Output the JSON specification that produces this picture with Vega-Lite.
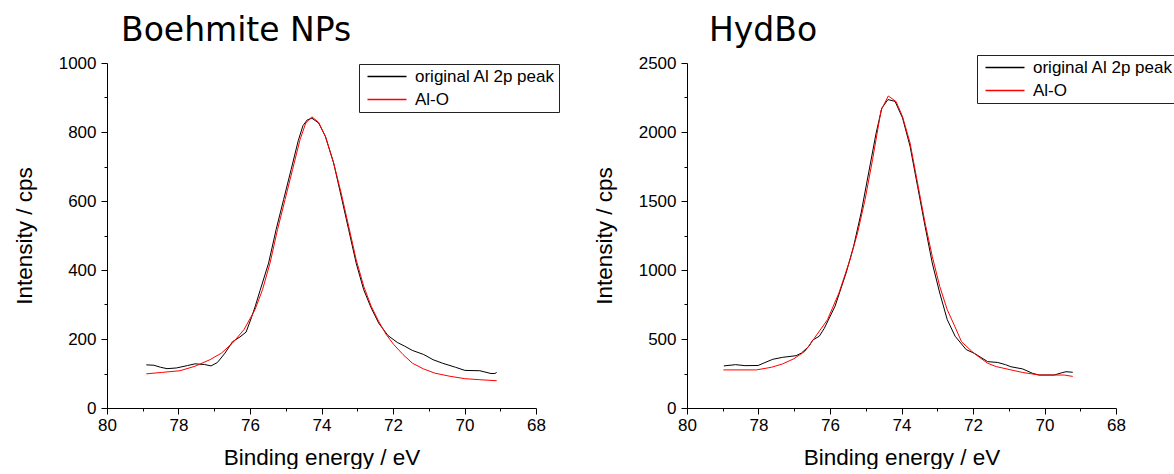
{
  "$schema": "https://vega.github.io/schema/vega-lite/v6.json",
  "background": "white",
  "padding": {"left": 13, "top": 15, "right": 0, "bottom": 0},
  "bounds": "flush",
  "spacing": 151,
  "config": {
    "view": {"stroke": null},
    "font": "Liberation Sans",
    "axis": {
      "domainColor": "black", "tickColor": "black", "labelColor": "black", "titleColor": "black",
      "labelFont": "Liberation Sans", "labelFontSize": 17, "titleFont": "Liberation Sans", "titleFontSize": 22.5,
      "titleFontWeight": "normal", "grid": false, "labelFlush": false, "labelOverlap": false,
      "domainWidth": 1, "tickWidth": 1
    },
    "axisX": {"labelPadding": 3, "titlePadding": 13},
    "axisY": {"labelPadding": 5, "titlePadding": 22},
    "title": {"font": "DejaVu Sans", "fontSize": 33, "fontWeight": "normal", "anchor": "start", "frame": "group", "baseline": "alphabetic", "offset": 6, "color": "black"},
    "legend": {
      "labelFont": "Liberation Sans", "labelFontSize": 17, "labelColor": "black",
      "strokeColor": "#222", "fillColor": "white", "padding": 4,
      "symbolType": "M-1,0H8.75", "symbolSize": 64, "symbolStrokeWidth": 1.5,
      "labelOffset": 35, "rowPadding": 5
    }
  },
  "datasets": {
    "boehmite": [
      {"s": "original Al 2p peak", "E": 78.90, "I": 125}, {"s": "original Al 2p peak", "E": 78.69, "I": 124},
      {"s": "original Al 2p peak", "E": 78.50, "I": 118}, {"s": "original Al 2p peak", "E": 78.32, "I": 114},
      {"s": "original Al 2p peak", "E": 78.06, "I": 116}, {"s": "original Al 2p peak", "E": 77.75, "I": 123},
      {"s": "original Al 2p peak", "E": 77.54, "I": 128}, {"s": "original Al 2p peak", "E": 77.27, "I": 126},
      {"s": "original Al 2p peak", "E": 77.09, "I": 122}, {"s": "original Al 2p peak", "E": 76.91, "I": 132},
      {"s": "original Al 2p peak", "E": 76.70, "I": 159}, {"s": "original Al 2p peak", "E": 76.49, "I": 192},
      {"s": "original Al 2p peak", "E": 76.28, "I": 206}, {"s": "original Al 2p peak", "E": 76.11, "I": 220},
      {"s": "original Al 2p peak", "E": 75.96, "I": 262}, {"s": "original Al 2p peak", "E": 75.85, "I": 296},
      {"s": "original Al 2p peak", "E": 75.72, "I": 340}, {"s": "original Al 2p peak", "E": 75.48, "I": 420},
      {"s": "original Al 2p peak", "E": 75.27, "I": 517}, {"s": "original Al 2p peak", "E": 75.06, "I": 604},
      {"s": "original Al 2p peak", "E": 74.85, "I": 691}, {"s": "original Al 2p peak", "E": 74.65, "I": 775},
      {"s": "original Al 2p peak", "E": 74.52, "I": 818}, {"s": "original Al 2p peak", "E": 74.40, "I": 835},
      {"s": "original Al 2p peak", "E": 74.27, "I": 840}, {"s": "original Al 2p peak", "E": 74.08, "I": 826},
      {"s": "original Al 2p peak", "E": 73.89, "I": 787}, {"s": "original Al 2p peak", "E": 73.66, "I": 710},
      {"s": "original Al 2p peak", "E": 73.45, "I": 614}, {"s": "original Al 2p peak", "E": 73.24, "I": 517},
      {"s": "original Al 2p peak", "E": 73.03, "I": 420}, {"s": "original Al 2p peak", "E": 72.82, "I": 343},
      {"s": "original Al 2p peak", "E": 72.61, "I": 290}, {"s": "original Al 2p peak", "E": 72.40, "I": 246},
      {"s": "original Al 2p peak", "E": 72.14, "I": 210}, {"s": "original Al 2p peak", "E": 71.88, "I": 190},
      {"s": "original Al 2p peak", "E": 71.67, "I": 179}, {"s": "original Al 2p peak", "E": 71.46, "I": 167},
      {"s": "original Al 2p peak", "E": 71.14, "I": 155}, {"s": "original Al 2p peak", "E": 70.88, "I": 140},
      {"s": "original Al 2p peak", "E": 70.62, "I": 130}, {"s": "original Al 2p peak", "E": 70.25, "I": 118},
      {"s": "original Al 2p peak", "E": 69.99, "I": 109}, {"s": "original Al 2p peak", "E": 69.57, "I": 108},
      {"s": "original Al 2p peak", "E": 69.26, "I": 100}, {"s": "original Al 2p peak", "E": 69.15, "I": 100},
      {"s": "original Al 2p peak", "E": 69.10, "I": 103},
      {"s": "Al-O", "E": 78.90, "I": 99}, {"s": "Al-O", "E": 78.48, "I": 103}, {"s": "Al-O", "E": 77.96, "I": 108},
      {"s": "Al-O", "E": 77.54, "I": 121}, {"s": "Al-O", "E": 77.12, "I": 140}, {"s": "Al-O", "E": 76.80, "I": 159},
      {"s": "Al-O", "E": 76.49, "I": 188}, {"s": "Al-O", "E": 76.17, "I": 227}, {"s": "Al-O", "E": 75.86, "I": 285},
      {"s": "Al-O", "E": 75.65, "I": 343}, {"s": "Al-O", "E": 75.44, "I": 420}, {"s": "Al-O", "E": 75.23, "I": 517},
      {"s": "Al-O", "E": 75.02, "I": 604}, {"s": "Al-O", "E": 74.81, "I": 691}, {"s": "Al-O", "E": 74.60, "I": 778},
      {"s": "Al-O", "E": 74.44, "I": 826}, {"s": "Al-O", "E": 74.27, "I": 844}, {"s": "Al-O", "E": 74.08, "I": 828},
      {"s": "Al-O", "E": 73.89, "I": 787}, {"s": "Al-O", "E": 73.66, "I": 710}, {"s": "Al-O", "E": 73.45, "I": 623},
      {"s": "Al-O", "E": 73.24, "I": 527}, {"s": "Al-O", "E": 73.03, "I": 430}, {"s": "Al-O", "E": 72.82, "I": 353},
      {"s": "Al-O", "E": 72.61, "I": 295}, {"s": "Al-O", "E": 72.40, "I": 251}, {"s": "Al-O", "E": 72.19, "I": 213},
      {"s": "Al-O", "E": 71.98, "I": 184}, {"s": "Al-O", "E": 71.72, "I": 155}, {"s": "Al-O", "E": 71.46, "I": 130},
      {"s": "Al-O", "E": 71.14, "I": 113}, {"s": "Al-O", "E": 70.83, "I": 101}, {"s": "Al-O", "E": 70.41, "I": 92},
      {"s": "Al-O", "E": 69.99, "I": 85}, {"s": "Al-O", "E": 69.57, "I": 82}, {"s": "Al-O", "E": 69.10, "I": 79}
    ],
    "hydbo": [
      {"s": "original Al 2p peak", "E": 78.97, "I": 305}, {"s": "original Al 2p peak", "E": 78.64, "I": 314},
      {"s": "original Al 2p peak", "E": 78.38, "I": 307}, {"s": "original Al 2p peak", "E": 78.01, "I": 308},
      {"s": "original Al 2p peak", "E": 77.85, "I": 326}, {"s": "original Al 2p peak", "E": 77.60, "I": 353},
      {"s": "original Al 2p peak", "E": 77.33, "I": 367}, {"s": "original Al 2p peak", "E": 76.95, "I": 379},
      {"s": "original Al 2p peak", "E": 76.80, "I": 398}, {"s": "original Al 2p peak", "E": 76.59, "I": 447},
      {"s": "original Al 2p peak", "E": 76.48, "I": 493}, {"s": "original Al 2p peak", "E": 76.30, "I": 520},
      {"s": "original Al 2p peak", "E": 76.16, "I": 577}, {"s": "original Al 2p peak", "E": 75.86, "I": 737},
      {"s": "original Al 2p peak", "E": 75.55, "I": 978}, {"s": "original Al 2p peak", "E": 75.34, "I": 1171},
      {"s": "original Al 2p peak", "E": 75.13, "I": 1413}, {"s": "original Al 2p peak", "E": 74.92, "I": 1703},
      {"s": "original Al 2p peak", "E": 74.71, "I": 1992}, {"s": "original Al 2p peak", "E": 74.55, "I": 2173},
      {"s": "original Al 2p peak", "E": 74.38, "I": 2235}, {"s": "original Al 2p peak", "E": 74.18, "I": 2222},
      {"s": "original Al 2p peak", "E": 73.97, "I": 2101}, {"s": "original Al 2p peak", "E": 73.76, "I": 1896},
      {"s": "original Al 2p peak", "E": 73.55, "I": 1606}, {"s": "original Al 2p peak", "E": 73.34, "I": 1316},
      {"s": "original Al 2p peak", "E": 73.14, "I": 1051}, {"s": "original Al 2p peak", "E": 72.93, "I": 833},
      {"s": "original Al 2p peak", "E": 72.72, "I": 640}, {"s": "original Al 2p peak", "E": 72.50, "I": 520},
      {"s": "original Al 2p peak", "E": 72.19, "I": 423}, {"s": "original Al 2p peak", "E": 71.96, "I": 396},
      {"s": "original Al 2p peak", "E": 71.59, "I": 336}, {"s": "original Al 2p peak", "E": 71.31, "I": 330},
      {"s": "original Al 2p peak", "E": 71.09, "I": 314}, {"s": "original Al 2p peak", "E": 70.94, "I": 299},
      {"s": "original Al 2p peak", "E": 70.61, "I": 283}, {"s": "original Al 2p peak", "E": 70.33, "I": 251},
      {"s": "original Al 2p peak", "E": 70.15, "I": 239}, {"s": "original Al 2p peak", "E": 69.73, "I": 239},
      {"s": "original Al 2p peak", "E": 69.52, "I": 255}, {"s": "original Al 2p peak", "E": 69.40, "I": 263},
      {"s": "original Al 2p peak", "E": 69.21, "I": 259},
      {"s": "Al-O", "E": 78.98, "I": 276}, {"s": "Al-O", "E": 78.06, "I": 276}, {"s": "Al-O", "E": 77.64, "I": 295},
      {"s": "Al-O", "E": 77.33, "I": 319}, {"s": "Al-O", "E": 77.01, "I": 357}, {"s": "Al-O", "E": 76.70, "I": 411},
      {"s": "Al-O", "E": 76.44, "I": 505}, {"s": "Al-O", "E": 76.07, "I": 640}, {"s": "Al-O", "E": 75.75, "I": 833},
      {"s": "Al-O", "E": 75.44, "I": 1075}, {"s": "Al-O", "E": 75.23, "I": 1268}, {"s": "Al-O", "E": 75.02, "I": 1509},
      {"s": "Al-O", "E": 74.81, "I": 1799}, {"s": "Al-O", "E": 74.57, "I": 2159}, {"s": "Al-O", "E": 74.37, "I": 2261},
      {"s": "Al-O", "E": 74.15, "I": 2220}, {"s": "Al-O", "E": 73.97, "I": 2111}, {"s": "Al-O", "E": 73.76, "I": 1920},
      {"s": "Al-O", "E": 73.55, "I": 1630}, {"s": "Al-O", "E": 73.34, "I": 1340}, {"s": "Al-O", "E": 73.14, "I": 1099},
      {"s": "Al-O", "E": 72.93, "I": 881}, {"s": "Al-O", "E": 72.72, "I": 712}, {"s": "Al-O", "E": 72.51, "I": 592},
      {"s": "Al-O", "E": 72.32, "I": 480}, {"s": "Al-O", "E": 71.98, "I": 398}, {"s": "Al-O", "E": 71.59, "I": 324},
      {"s": "Al-O", "E": 71.35, "I": 300}, {"s": "Al-O", "E": 70.85, "I": 271}, {"s": "Al-O", "E": 70.62, "I": 258},
      {"s": "Al-O", "E": 70.15, "I": 239}, {"s": "Al-O", "E": 69.45, "I": 239}, {"s": "Al-O", "E": 69.21, "I": 229}
    ]
  },
  "resolve": {"scale": {"color": "independent"}, "legend": {"color": "independent"}},
  "hconcat": [
    {
      "title": {"text": "Boehmite NPs", "dx": 14},
      "width": 429, "height": 345,
      "data": {"name": "boehmite"},
      "mark": {"type": "line", "strokeWidth": 1},
      "encoding": {
        "x": {"field": "E", "type": "quantitative",
          "scale": {"domain": [68, 80], "reverse": true, "nice": false, "zero": false},
          "axis": {"title": "Binding energy / eV", "format": "d",
            "values": [68, 69, 70, 71, 72, 73, 74, 75, 76, 77, 78, 79, 80],
            "labelExpr": "datum.value % 2 == 0 ? datum.label : ''",
            "tickSize": {"condition": {"test": "datum.value % 2 == 0", "value": 6}, "value": 3}}},
        "y": {"field": "I", "type": "quantitative",
          "scale": {"domain": [0, 1000], "nice": false},
          "axis": {"title": "Intensity / cps", "format": "d",
            "values": [0, 100, 200, 300, 400, 500, 600, 700, 800, 900, 1000],
            "labelExpr": "datum.value % 200 == 0 ? datum.label : ''",
            "tickSize": {"condition": {"test": "datum.value % 200 == 0", "value": 6}, "value": 3}}},
        "color": {"field": "s", "type": "nominal",
          "scale": {"domain": ["original Al 2p peak", "Al-O"], "range": ["#000000", "#ff0000"]},
          "legend": {"title": null, "orient": "none", "legendX": 252, "legendY": 1}}
      }
    },
    {
      "title": {"text": "HydBo", "dx": 22},
      "width": 429, "height": 345,
      "data": {"name": "hydbo"},
      "mark": {"type": "line", "strokeWidth": 1},
      "encoding": {
        "x": {"field": "E", "type": "quantitative",
          "scale": {"domain": [68, 80], "reverse": true, "nice": false, "zero": false},
          "axis": {"title": "Binding energy / eV", "format": "d",
            "values": [68, 69, 70, 71, 72, 73, 74, 75, 76, 77, 78, 79, 80],
            "labelExpr": "datum.value % 2 == 0 ? datum.label : ''",
            "tickSize": {"condition": {"test": "datum.value % 2 == 0", "value": 6}, "value": 3}}},
        "y": {"field": "I", "type": "quantitative",
          "scale": {"domain": [0, 2500], "nice": false},
          "axis": {"title": "Intensity / cps", "format": "d",
            "values": [0, 250, 500, 750, 1000, 1250, 1500, 1750, 2000, 2250, 2500],
            "labelExpr": "datum.value % 500 == 0 ? datum.label : ''",
            "tickSize": {"condition": {"test": "datum.value % 500 == 0", "value": 6}, "value": 3}}},
        "color": {"field": "s", "type": "nominal",
          "scale": {"domain": ["original Al 2p peak", "Al-O"], "range": ["#000000", "#ff0000"]},
          "legend": {"title": null, "orient": "none", "legendX": 290, "legendY": -8}}
      }
    }
  ]
}
